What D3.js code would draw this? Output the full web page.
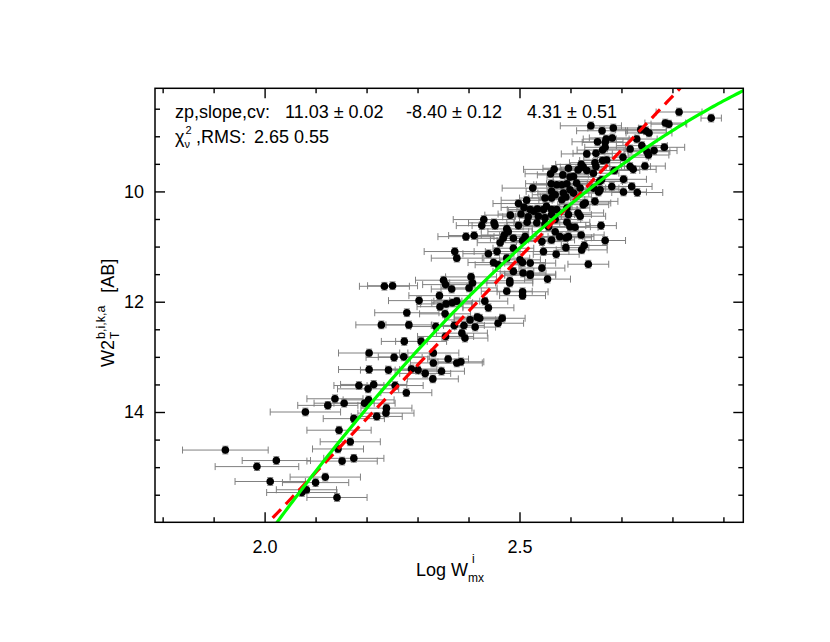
<!DOCTYPE html>
<html>
<head>
<meta charset="utf-8">
<script src="https://cdn.jsdelivr.net/npm/d3@7"></script>
<style>
  body { margin: 0; background: #fff; }
  svg text { font-family: "Liberation Sans", Arial, Helvetica, sans-serif; fill: #000; }
</style>
</head>
<body>
<svg id="chart" width="830" height="642"></svg>
<script>
// each galaxy: [log W_mx^i, W2 mag, error on log W]
var galaxies = [
  [1.923,14.69,0.084],[2.023,14.88,0.067],[1.985,14.99,0.082],[2.011,15.26,0.069],[2.080,14.00,0.069],
  [2.124,13.88,0.059],[2.138,13.76,0.055],[2.156,13.84,0.059],[2.185,13.52,0.049],[2.175,14.12,0.060],
  [2.146,14.33,0.063],[2.168,14.54,0.059],[2.144,14.67,0.050],[2.152,14.89,0.069],[2.175,14.84,0.059],
  [2.119,15.18,0.069],[2.100,15.28,0.065],[2.082,15.41,0.059],[2.073,15.46,0.069],[2.142,15.55,0.059],
  [2.235,11.72,0.049],[2.251,11.71,0.049],[2.351,11.61,0.055],[2.355,11.69,0.045],[2.367,11.77,0.040],
  [2.405,11.55,0.050],[2.408,11.66,0.045],[2.401,11.75,0.055],[2.343,11.89,0.060],[2.303,11.98,0.060],
  [2.344,12.09,0.045],[2.356,12.04,0.050],[2.368,12.02,0.040],[2.377,11.99,0.045],[2.279,12.20,0.063],
  [2.354,12.22,0.050],[2.229,12.42,0.050],[2.283,12.42,0.045],[2.336,12.45,0.050],[2.372,12.43,0.045],
  [2.391,12.43,0.040],[2.403,12.33,0.050],[2.413,12.46,0.040],[2.417,12.28,0.045],[2.387,12.57,0.050],
  [2.393,12.66,0.045],[2.355,12.63,0.055],[2.274,12.72,0.045],[2.307,12.72,0.050],[2.205,12.93,0.060],
  [2.254,13.01,0.055],[2.273,13.00,0.050],[2.331,12.93,0.050],[2.360,13.04,0.040],[2.331,13.11,0.045],
  [2.377,13.11,0.050],[2.385,13.09,0.045],[2.205,13.23,0.060],[2.243,13.24,0.055],[2.288,13.22,0.050],
  [2.301,13.24,0.045],[2.315,13.30,0.050],[2.347,13.26,0.045],[2.330,13.40,0.050],[2.203,13.58,0.060],
  [2.214,13.50,0.065],[2.256,13.52,0.055],[2.278,13.65,0.050],[2.196,13.84,0.060],[2.204,13.78,0.050],
  [2.239,13.93,0.050],[2.238,14.02,0.055],[2.220,14.08,0.050],
  [2.514,10.16,0.050],[2.498,10.22,0.050],[2.509,10.29,0.045],[2.482,10.43,0.050],[2.503,10.41,0.045],
  [2.515,10.56,0.040],[2.430,10.51,0.060],[2.426,10.62,0.050],[2.450,10.57,0.050],[2.452,10.62,0.045],
  [2.475,10.68,0.050],[2.478,10.73,0.040],[2.498,10.62,0.045],[2.395,10.82,0.055],[2.411,10.80,0.050],
  [2.470,10.79,0.045],[2.468,10.85,0.050],[2.488,10.85,0.045],[2.506,10.89,0.050],[2.462,10.93,0.045],
  [2.373,11.09,0.060],[2.377,11.21,0.050],[2.439,11.13,0.050],[2.456,11.09,0.045],[2.488,11.03,0.040],
  [2.475,11.21,0.045],[2.449,11.29,0.050],[2.458,11.33,0.045],[2.501,11.24,0.040],[2.506,11.29,0.045],
  [2.488,11.45,0.040],[2.507,11.48,0.045],
  [2.813,8.56,0.045],[2.876,8.67,0.020],[2.786,8.76,0.040],[2.793,8.78,0.035],[2.738,8.88,0.050],
  [2.748,8.90,0.040],[2.754,8.94,0.045],[2.640,8.81,0.060],[2.662,8.90,0.050],[2.684,8.85,0.050],
  [2.682,9.03,0.045],[2.653,9.10,0.050],[2.668,9.11,0.045],[2.663,9.25,0.050],[2.668,9.20,0.040],
  [2.730,9.05,0.040],[2.717,9.23,0.045],[2.740,9.17,0.050],[2.750,9.28,0.045],[2.753,9.34,0.040],
  [2.764,9.26,0.045],[2.784,9.20,0.040],[2.632,9.32,0.050],[2.650,9.31,0.045],[2.703,9.38,0.050],
  [2.663,9.44,0.045],[2.621,9.51,0.050],[2.625,9.56,0.045],[2.650,9.55,0.050],[2.717,9.55,0.040],
  [2.723,9.60,0.045],[2.746,9.54,0.040],[2.686,9.62,0.050],[2.704,9.78,0.045],[2.661,9.79,0.050],
  [2.681,9.91,0.045],[2.720,9.91,0.040],[2.645,9.94,0.050],
  [2.596,9.58,0.050],[2.615,9.61,0.045],[2.632,9.62,0.050],[2.568,9.60,0.060],[2.561,9.68,0.050],
  [2.585,9.70,0.050],[2.599,9.74,0.045],[2.606,9.73,0.040],[2.645,9.67,0.050],[2.657,9.82,0.045],
  [2.562,9.86,0.050],[2.573,9.88,0.045],[2.583,9.88,0.050],[2.593,9.86,0.040],[2.612,9.85,0.045],
  [2.526,9.94,0.060],[2.563,10.00,0.050],[2.570,10.06,0.045],[2.586,10.03,0.050],[2.599,9.97,0.045],
  [2.619,9.94,0.050],[2.550,10.12,0.050],[2.583,10.15,0.045],[2.591,10.10,0.050],[2.521,10.33,0.045],
  [2.528,10.36,0.050],[2.535,10.32,0.040],[2.553,10.27,0.050],[2.547,10.33,0.045],[2.563,10.33,0.050],
  [2.573,10.33,0.040],[2.593,10.30,0.045],[2.517,10.46,0.050],[2.537,10.45,0.045],[2.550,10.48,0.050],
  [2.596,10.42,0.045],[2.619,10.45,0.050],
  [2.704,10.01,0.045],[2.731,10.02,0.050],[2.658,9.97,0.045],[2.629,10.21,0.050],[2.648,10.18,0.045],
  [2.615,10.39,0.050],[2.563,10.42,0.045],[2.570,10.51,0.050],[2.534,10.57,0.045],[2.550,10.59,0.050],
  [2.593,10.56,0.045],[2.599,10.64,0.040],[2.609,10.65,0.045],[2.660,10.62,0.030],[2.570,10.73,0.045],
  [2.557,10.64,0.050],[2.621,10.79,0.045],[2.668,10.89,0.040],[2.579,10.82,0.045],[2.591,10.84,0.050],
  [2.544,10.91,0.050],[2.563,10.88,0.045],[2.627,10.98,0.045],[2.622,11.06,0.050],[2.591,11.02,0.045],
  [2.547,11.09,0.050],[2.572,11.14,0.045],[2.521,11.30,0.050],[2.544,11.39,0.045],[2.635,11.32,0.040],
  [2.521,11.50,0.050],[2.555,11.59,0.045],
  [2.506,11.82,0.050],[2.506,11.89,0.045],[2.475,11.81,0.050],[2.481,11.62,0.045],[2.439,12.11,0.050],
  [2.432,11.99,0.045],[2.422,12.30,0.050],[2.466,12.30,0.045],[2.458,12.39,0.050],
  [2.655,10.01,0.045],[2.606,10.03,0.050],[2.563,10.12,0.045],[2.596,10.82,0.050],[2.511,10.82,0.045],
  [2.648,9.48,0.050],[2.670,9.05,0.045],[2.625,10.24,0.050],[2.481,11.66,0.045],[2.521,11.52,0.050],
  [2.671,9.43,0.045]
];
var magErr = 0.07;

var xMajor = [2.0, 2.5];
var xMinor = [1.8, 1.9, 2.1, 2.2, 2.3, 2.4, 2.6, 2.7, 2.8, 2.9];
var yMajor = [10, 12, 14];
var yMinor = [8.5, 9, 9.5, 10.5, 11, 11.5, 12.5, 13, 13.5, 14.5, 15, 15.5];

// fits, pivot at log W = 2.5
var pivot = 2.5;
var curveFit = [11.03, -8.40, 4.31];   // zp, slope, curvature (green)
var lineFit = [11.20, -9.75];          // zp, slope (red dashed)

var fitLine1 = ["zp,slope,cv:", "11.03 \u00b1 0.02", "-8.40 \u00b1 0.12", "4.31 \u00b1 0.51"];
var fitLine2 = [",RMS:", "2.65 0.55"];

var svg = d3.select("#chart");
var L = 155, R = 743.3, T = 88.3, B = 522.3;

var x = d3.scaleLinear().domain([1.785, 2.939]).range([L, R]);
var y = d3.scaleLinear().domain([8.13, 16]).range([T, B]);

svg.append("defs").append("clipPath").attr("id", "plotclip")
  .append("rect").attr("x", L).attr("y", T).attr("width", R - L).attr("height", B - T);

// error bars
var eb = svg.append("g").attr("stroke", "#808080").attr("stroke-width", 1).attr("fill", "none");
galaxies.forEach(function(d) {
  var cx = x(d[0]), cy = y(d[1]), x0 = x(d[0] - d[2]), x1 = x(d[0] + d[2]);
  var y0 = y(d[1] - magErr), y1 = y(d[1] + magErr);
  eb.append("path").attr("d",
    "M" + x0 + "," + cy + "H" + x1 +
    "M" + x0 + "," + (cy - 3.5) + "V" + (cy + 3.5) +
    "M" + x1 + "," + (cy - 3.5) + "V" + (cy + 3.5) +
    "M" + cx + "," + y0 + "V" + y1 +
    "M" + (cx - 3) + "," + y0 + "H" + (cx + 3) +
    "M" + (cx - 3) + "," + y1 + "H" + (cx + 3));
});

svg.append("g").selectAll("circle")
  .data(galaxies)
  .enter().append("circle")
  .attr("cx", function(d) { return x(d[0]); })
  .attr("cy", function(d) { return y(d[1]); })
  .attr("r", 3.8)
  .attr("fill", "#000");

// fit lines
var xs = d3.range(1.785, 2.945, 0.005);
var lineGen = d3.line()
  .x(function(d) { return x(d[0]); })
  .y(function(d) { return y(d[1]); });

var lines = svg.append("g").attr("clip-path", "url(#plotclip)");
lines.append("path")
  .attr("d", lineGen(xs.map(function(v) { return [v, lineFit[0] + lineFit[1] * (v - pivot)]; })))
  .attr("fill", "none").attr("stroke", "#ff0000").attr("stroke-width", 3.2)
  .attr("stroke-dasharray", "12,7");
lines.append("path")
  .attr("d", lineGen(xs.map(function(v) {
    var t = v - pivot;
    return [v, curveFit[0] + curveFit[1] * t + curveFit[2] * t * t];
  })))
  .attr("fill", "none").attr("stroke", "#00ff00").attr("stroke-width", 3.2);

// axes: ticks inward on all sides
function styleAxis(g) {
  g.select(".domain").remove();
  g.selectAll(".tick line").attr("stroke", "#000").attr("stroke-width", 1.4);
  g.selectAll("text").attr("font-size", 18).attr("fill", "#000")
    .style("font-family", '"Liberation Sans", Arial, sans-serif');
}
svg.append("g").attr("transform", "translate(0," + B + ")")
  .call(d3.axisBottom(x).tickValues(xMajor).tickFormat(d3.format(".1f")).tickSize(-10).tickPadding(18))
  .call(styleAxis);
svg.append("g").attr("transform", "translate(0," + B + ")")
  .call(d3.axisBottom(x).tickValues(xMinor).tickFormat("").tickSize(-5))
  .call(styleAxis);
svg.append("g").attr("transform", "translate(0," + T + ")")
  .call(d3.axisTop(x).tickValues(xMajor).tickFormat("").tickSize(-10))
  .call(styleAxis);
svg.append("g").attr("transform", "translate(0," + T + ")")
  .call(d3.axisTop(x).tickValues(xMinor).tickFormat("").tickSize(-5))
  .call(styleAxis);
svg.append("g").attr("transform", "translate(" + L + ",0)")
  .call(d3.axisLeft(y).tickValues(yMajor).tickFormat(d3.format("d")).tickSize(-10).tickPadding(11))
  .call(styleAxis);
svg.append("g").attr("transform", "translate(" + L + ",0)")
  .call(d3.axisLeft(y).tickValues(yMinor).tickFormat("").tickSize(-5))
  .call(styleAxis);
svg.append("g").attr("transform", "translate(" + R + ",0)")
  .call(d3.axisRight(y).tickValues(yMajor).tickFormat("").tickSize(-10))
  .call(styleAxis);
svg.append("g").attr("transform", "translate(" + R + ",0)")
  .call(d3.axisRight(y).tickValues(yMinor).tickFormat("").tickSize(-5))
  .call(styleAxis);

svg.append("rect").attr("x", L).attr("y", T).attr("width", R - L).attr("height", B - T)
  .attr("fill", "none").attr("stroke", "#000").attr("stroke-width", 1.5);

// x title: Log W^i_mx
var xt = svg.append("text").attr("x", 416).attr("y", 576).attr("font-size", 18).text("Log W");
var xw = 416 + xt.node().getComputedTextLength();
svg.append("text").attr("x", xw + 4).attr("y", 563).attr("font-size", 12).text("i");
svg.append("text").attr("x", xw).attr("y", 582).attr("font-size", 12).text("mx");

// y title: W2_T^{b,i,k,a} [AB]
var yt = svg.append("g").attr("transform", "translate(114,367) rotate(-90)");
var w2 = yt.append("text").attr("x", 0).attr("y", 0).attr("font-size", 18).text("W2");
var w2len = w2.node().getComputedTextLength();
var sub = yt.append("text").attr("x", w2len + 1).attr("y", 5).attr("font-size", 12).text("T");
var sup = yt.append("text").attr("x", w2len + 1).attr("y", -9).attr("font-size", 12.5).text("b,i,k,a");
var supEnd = w2len + 1 + Math.max(sub.node().getComputedTextLength(), sup.node().getComputedTextLength());
yt.append("text").attr("x", supEnd + 13).attr("y", 0).attr("font-size", 18).text("[AB]");

// fit annotation
var ann1x = [175, 285, 406, 527];
fitLine1.forEach(function(s, i) {
  svg.append("text").attr("x", ann1x[i]).attr("y", 118).attr("font-size", 18).text(s);
});
var chi = svg.append("text").attr("x", 175).attr("y", 143).attr("font-size", 18).text("\u03c7");
var chiEnd = 175 + chi.node().getComputedTextLength();
svg.append("text").attr("x", chiEnd + 1).attr("y", 134).attr("font-size", 11).text("2");
svg.append("text").attr("x", chiEnd).attr("y", 148).attr("font-size", 11).text("\u03bd");
svg.append("text").attr("x", 196).attr("y", 143).attr("font-size", 18).text(fitLine2[0]);
svg.append("text").attr("x", 254).attr("y", 143).attr("font-size", 18).text(fitLine2[1]);
</script>
</body>
</html>
